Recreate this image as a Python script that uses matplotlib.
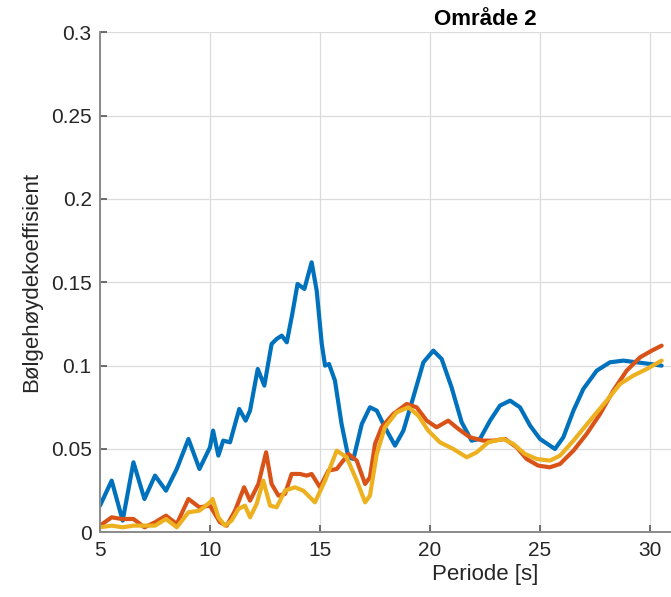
import matplotlib
matplotlib.use("Agg")
import matplotlib.pyplot as plt

# (Periode [s] vs coefficient)
blue_x = [5.0, 5.53, 6.03, 6.52, 7.02, 7.5, 8.0, 8.49, 9.02, 9.52, 10.0, 10.14,
          10.38, 10.6, 10.91, 11.33, 11.62, 11.82, 12.17, 12.47, 12.8, 13.03,
          13.26, 13.49, 13.74, 13.98, 14.29, 14.62, 14.85, 15.08, 15.23, 15.41,
          15.68, 15.98, 16.29, 16.52, 16.9, 17.27, 17.58, 17.95, 18.41, 18.79,
          19.24, 19.7, 20.15, 20.53, 20.98, 21.44, 21.89, 22.27, 22.73, 23.18,
          23.64, 24.09, 24.55, 25.0, 25.68, 26.06, 26.52, 26.97, 27.58, 28.18,
          28.79, 29.39, 30.0, 30.53]
blue_y = [0.016, 0.031, 0.007, 0.042, 0.020, 0.034, 0.025, 0.038, 0.056, 0.038,
          0.051, 0.061, 0.046, 0.055, 0.054, 0.074, 0.067, 0.073, 0.098, 0.088,
          0.113, 0.116, 0.118, 0.114, 0.131, 0.149, 0.146, 0.162, 0.145, 0.113,
          0.100, 0.101, 0.091, 0.065, 0.045, 0.044, 0.065, 0.075, 0.073, 0.063,
          0.052, 0.061, 0.081, 0.102, 0.109, 0.104, 0.087, 0.066, 0.055, 0.056,
          0.067, 0.076, 0.079, 0.075, 0.064, 0.056, 0.050, 0.057, 0.073, 0.086,
          0.097, 0.102, 0.103, 0.102, 0.101, 0.100]

orange_x = [5.0, 5.53, 5.98, 6.52, 7.02, 7.5, 8.0, 8.49, 9.02, 9.52, 10.0,
            10.45, 10.76, 11.14, 11.55, 11.82, 12.2, 12.55, 12.8, 13.11, 13.41,
            13.71, 14.09, 14.39, 14.62, 15.0, 15.38, 15.76, 16.29, 16.67, 17.05,
            17.27, 17.5, 17.8, 18.33, 18.94, 19.39, 19.85, 20.3, 20.83, 21.29,
            21.82, 22.42, 22.88, 23.41, 23.94, 24.39, 24.92, 25.45, 25.91, 26.52,
            27.12, 27.73, 28.33, 28.94, 29.55, 30.08, 30.53]
orange_y = [0.004, 0.009, 0.008, 0.008, 0.003, 0.006, 0.010, 0.005, 0.020,
            0.015, 0.016, 0.006, 0.004, 0.013, 0.027, 0.019, 0.029, 0.048, 0.029,
            0.022, 0.023, 0.035, 0.035, 0.034, 0.035, 0.027, 0.037, 0.038, 0.047,
            0.043, 0.029, 0.033, 0.053, 0.063, 0.071, 0.077, 0.075, 0.067, 0.063,
            0.067, 0.062, 0.057, 0.055, 0.055, 0.056, 0.051, 0.044, 0.040, 0.039,
            0.041, 0.049, 0.059, 0.071, 0.085, 0.097, 0.105, 0.109, 0.112]

yellow_x = [5.0, 5.53, 6.03, 6.52, 7.02, 7.5, 8.0, 8.49, 9.02, 9.52, 10.0,
            10.12, 10.38, 10.68, 10.98, 11.29, 11.59, 11.82, 12.12, 12.42, 12.73,
            13.03, 13.41, 13.86, 14.24, 14.77, 15.23, 15.76, 16.21, 16.67, 17.05,
            17.27, 17.58, 17.95, 18.48, 19.02, 19.47, 19.92, 20.45, 21.06, 21.67,
            22.12, 22.65, 23.33, 23.79, 24.32, 24.85, 25.45, 25.91, 26.52, 27.27,
            28.03, 28.64, 29.24, 29.85, 30.53]
yellow_y = [0.003, 0.004, 0.003, 0.004, 0.004, 0.004, 0.008, 0.003, 0.012,
            0.013, 0.018, 0.020, 0.009, 0.004, 0.007, 0.014, 0.016, 0.009, 0.017,
            0.031, 0.016, 0.015, 0.025, 0.027, 0.025, 0.018, 0.031, 0.049, 0.045,
            0.031, 0.018, 0.022, 0.047, 0.063, 0.072, 0.075, 0.070, 0.061, 0.054,
            0.050, 0.045, 0.048, 0.054, 0.056, 0.053, 0.047, 0.044, 0.043, 0.046,
            0.055, 0.067, 0.079, 0.089, 0.094, 0.098, 0.103]

x_ticks = [5, 10, 15, 20, 25, 30, 35, 40]
y_ticks = [0, 0.05, 0.1, 0.15, 0.2, 0.25, 0.3]
y_labels = ["0", "0.05", "0.1", "0.15", "0.2", "0.25", "0.3"]

plt.rcParams["font.family"] = ["Liberation Sans", "DejaVu Sans"]

fig = plt.figure(figsize=(6.71, 5.97), dpi=100)
# axes runs past the right edge, as in the cropped original
ax = fig.add_axes([100 / 671, 64.7 / 597, 770 / 671, 500 / 597])

lw = 3.0
for xs, ys, c in ((blue_x, blue_y, "#0072BD"),
                  (orange_x, orange_y, "#D95319"),
                  (yellow_x, yellow_y, "#EDB120")):
    ax.plot(xs, ys, color=c, lw=lw, solid_joinstyle="round",
            solid_capstyle="round")

ax.set_xlim(5, 40)
ax.set_ylim(0, 0.3)
ax.set_xticks(x_ticks)
ax.set_yticks(y_ticks)
ax.set_yticklabels(y_labels)
ax.grid(True, color="#dcdcdc", lw=0.9)
ax.set_axisbelow(True)

for s in ("top", "right"):
    ax.spines[s].set_visible(False)
for s in ("left", "bottom"):
    ax.spines[s].set_color("#8a8a8a")
    ax.spines[s].set_linewidth(1.4)
ax.tick_params(direction="in", length=5, width=1.2, color="#555555",
               labelsize=15, labelcolor="#262626", pad=6)

ax.set_xlabel("Periode [s]", fontsize=16, color="#262626", labelpad=3)
ax.set_ylabel("Bølgehøydekoeffisient", fontsize=16, color="#262626", labelpad=6)
ax.set_title("Område 2", fontsize=16, fontweight="bold", pad=5)

fig.savefig("out.png", dpi=100)
